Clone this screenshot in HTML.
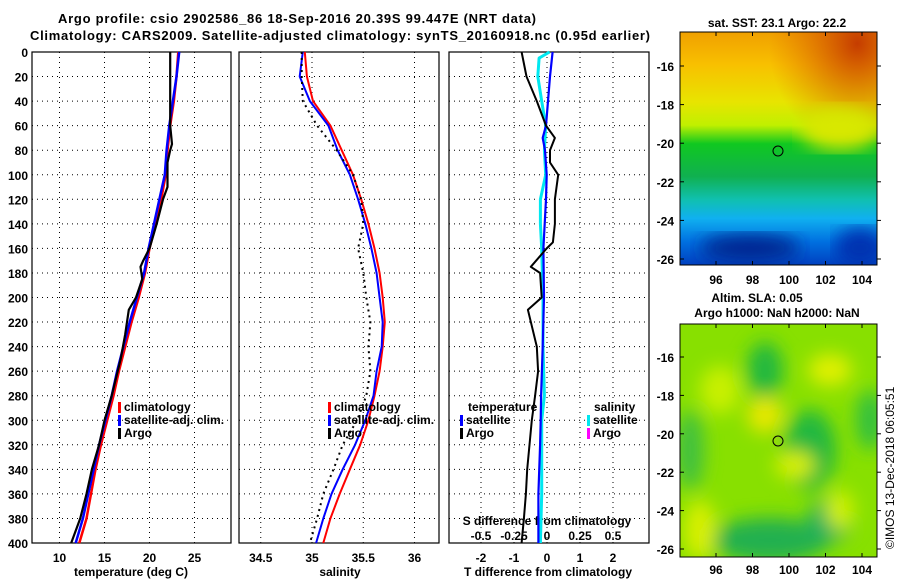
<!DOCTYPE html>
<html><head><meta charset="utf-8"><style>
html,body{margin:0;padding:0;background:#fff;}
svg{display:block;font-family:"Liberation Sans",sans-serif;font-weight:bold;}
</style></head><body>
<svg id="chart" width="900" height="580" viewBox="0 0 900 580" xmlns="http://www.w3.org/2000/svg">
<defs>
<linearGradient id="sstGrad" x1="0" y1="0" x2="0" y2="1">
<stop offset="0" stop-color="#f0a000"/><stop offset="0.14" stop-color="#f8c000"/>
<stop offset="0.3" stop-color="#e8e400"/><stop offset="0.4" stop-color="#c0f000"/>
<stop offset="0.48" stop-color="#10c820"/><stop offset="0.62" stop-color="#10b050"/>
<stop offset="0.72" stop-color="#10c0b0"/><stop offset="0.8" stop-color="#10b0f0"/>
<stop offset="0.9" stop-color="#0070e0"/><stop offset="1" stop-color="#0040c0"/>
</linearGradient>
<radialGradient id="hotCorner" cx="0.9" cy="0.05" r="0.45">
<stop offset="0" stop-color="#c03000" stop-opacity="0.9"/><stop offset="1" stop-color="#e06000" stop-opacity="0"/>
</radialGradient>
<filter id="blur"><feGaussianBlur stdDeviation="9"/></filter>
<clipPath id="clipT"><rect x="680" y="32" width="197" height="233"/></clipPath>
<clipPath id="clipB"><rect x="680" y="324" width="197" height="233"/></clipPath>
</defs>
<text x="58" y="23" font-size="13" textLength="478">Argo profile: csio 2902586_86 18-Sep-2016 20.39S 99.447E (NRT data)</text>
<text x="30" y="40" font-size="13" textLength="620">Climatology: CARS2009. Satellite-adjusted climatology: synTS_20160918.nc (0.95d earlier)</text>

<g clip-path="url(#clipT)">
<rect x="680" y="32" width="197" height="233" fill="url(#sstGrad)"/>
<rect x="680" y="32" width="197" height="233" fill="url(#hotCorner)"/>
<ellipse cx="840" cy="128" rx="40" ry="22" fill="#d8e800" filter="url(#blur)"/>
<ellipse cx="750" cy="248" rx="50" ry="14" fill="#002890" filter="url(#blur)"/>
<ellipse cx="860" cy="248" rx="25" ry="20" fill="#0030b0" filter="url(#blur)"/>
</g>
<rect x="680" y="32" width="197" height="233" fill="none" stroke="#000"/>
<circle cx="778" cy="151" r="5" fill="none" stroke="#000"/>
<text x="777" y="27" font-size="12" text-anchor="middle">sat. SST: 23.1 Argo: 22.2</text>

<g clip-path="url(#clipB)">
<rect x="680" y="324" width="197" height="233" fill="#88e000"/>
<g filter="url(#blur)">
<ellipse cx="765" cy="370" rx="18" ry="28" fill="#20b840"/>
<ellipse cx="810" cy="450" rx="26" ry="40" fill="#20b840"/>
<ellipse cx="770" cy="540" rx="60" ry="22" fill="#20b050"/>
<ellipse cx="870" cy="420" rx="14" ry="30" fill="#30c040"/>
<ellipse cx="690" cy="450" rx="14" ry="40" fill="#40c040"/>
<ellipse cx="830" cy="520" rx="22" ry="22" fill="#20b060"/>
<ellipse cx="700" cy="530" rx="16" ry="30" fill="#d8f000"/>
<ellipse cx="830" cy="370" rx="22" ry="16" fill="#e0f000"/>
<ellipse cx="765" cy="415" rx="18" ry="18" fill="#e8e800"/>
<ellipse cx="795" cy="465" rx="20" ry="14" fill="#d8f000"/>
<ellipse cx="720" cy="390" rx="20" ry="24" fill="#c8f000"/>
<ellipse cx="840" cy="510" rx="14" ry="20" fill="#d0f000"/>
</g>
</g>
<rect x="680" y="324" width="197" height="233" fill="none" stroke="#000"/>
<circle cx="778" cy="441" r="5" fill="none" stroke="#000"/>
<text x="757" y="302" font-size="12" text-anchor="middle">Altim. SLA: 0.05</text>
<text x="777" y="317" font-size="12" text-anchor="middle">Argo h1000: NaN h2000: NaN</text>
<text x="0" y="0" font-size="12" font-weight="normal" transform="translate(894,549) rotate(-90)">©IMOS 13-Dec-2018 06:05:51</text>
</svg>
<script>
// ---------- data ----------
const depthTicks = [0,20,40,60,80,100,120,140,160,180,200,220,240,260,280,300,320,340,360,380,400];
const tempTicks = [10,15,20,25];
const salTicks = [34.5,35,35.5,36];
const tdiffTicks = [-2,-1,0,1,2];
const sdiffTicks = [-0.5,-0.25,0,0.25,0.5];
const sdiffTickLabels = ['-0.5','-0.25','0','0.25','0.5'];
const lonTicks = [96,98,100,102,104];
const latTicks = [-16,-18,-20,-22,-24,-26];

const depthStd = [0,20,40,60,80,100,120,140,160,180,200,220,240,260,280,300,320,340,360,380,400];
const tempClim = [23.2,23.0,22.7,22.3,22.0,21.8,21.3,20.7,20.0,19.5,18.8,18.0,17.3,16.6,16.0,15.3,14.6,14.0,13.5,13.0,12.2];
const tempSat  = [23.3,23.0,22.6,22.2,21.9,21.7,21.1,20.5,19.9,19.4,18.6,17.8,17.1,16.4,15.8,15.1,14.4,13.8,13.2,12.6,11.8];
const depthArgoT = [0,20,40,60,75,80,90,110,120,140,160,170,175,185,200,210,230,250,280,300,320,340,360,380,400];
const tempArgo   = [22.3,22.3,22.3,22.3,22.5,22.3,22.0,22.0,21.5,20.8,20.0,19.3,19.0,19.2,18.5,17.7,17.3,16.8,15.8,15.0,14.4,13.6,13.0,12.3,11.3];

const salClim = [34.93,34.95,35.01,35.18,35.29,35.40,35.48,35.55,35.61,35.66,35.69,35.71,35.69,35.66,35.61,35.55,35.47,35.37,35.27,35.18,35.11];
const salSat  = [34.91,34.88,34.98,35.16,35.25,35.37,35.45,35.52,35.58,35.63,35.66,35.69,35.68,35.63,35.60,35.52,35.42,35.30,35.19,35.11,35.04];
const salArgo = [34.90,34.90,34.91,35.05,35.24,35.40,35.48,35.50,35.45,35.50,35.53,35.57,35.55,35.57,35.53,35.44,35.30,35.21,35.11,35.05,34.98];

const depthTdiffArgo = [0,20,40,60,70,80,90,100,120,140,155,160,175,180,200,210,240,260,280,300,320,340,360,380,400];
const tdiffArgo = [-0.77,-0.62,-0.31,-0.03,0.24,0.09,0.09,0.34,0.24,0.24,0.18,-0.01,-0.49,-0.21,-0.16,-0.58,-0.31,-0.27,-0.36,-0.46,-0.53,-0.60,-0.64,-0.70,-0.77];
const depthTdiffSat = [0,20,40,60,70,80,100,120,160,200,240,280,300,320,360,400];
const tdiffSat = [0.17,0.09,0.03,-0.03,-0.13,-0.06,-0.01,-0.03,-0.11,-0.09,-0.13,-0.18,-0.19,-0.21,-0.26,-0.26];
const depthSdiffSat = [0,5,20,40,60,80,100,120,140,160,200,240,280,300,320,360,400];
const sdiffSat = [0.02,-0.06,-0.07,-0.04,-0.01,-0.02,-0.01,-0.05,-0.05,-0.04,-0.03,-0.03,-0.02,-0.04,-0.04,-0.04,-0.05];

// ---------- axes ----------
const Y0 = 52, Y1 = 543;
function yD(d){ return Y0 + (d/400)*(Y1-Y0); }
const P1 = {x0:32, x1:231}, P2 = {x0:239, x1:439}, P3 = {x0:449, x1:649};
function xT(t){ return 59.5 + (t-10)*9; }
function xS(s){ return 312 + (s-35)*102.5; }
function xTd(d){ return 547 + d*33; }
function xSd(s){ return 547 + s*132; }
function xLon(l){ return 716 + (l-96)*18.25; }
function yLatTop(l){ return 66 + (-l-16)*19.3; }
function yLatBot(l){ return 357 + (-l-16)*19.2; }

const NS = 'http://www.w3.org/2000/svg';
const svg = document.getElementById('chart');
function mk(tag, attrs, parent){
  const e = document.createElementNS(NS, tag);
  for (const k in attrs) e.setAttribute(k, attrs[k]);
  (parent||svg).appendChild(e);
  return e;
}
function txt(x,y,s,anchor,size){
  const t = mk('text',{x:x,y:y,'text-anchor':anchor||'start','font-size':size||12});
  t.textContent = s;
  return t;
}
function poly(xs, ds, fx, color, w, dash){
  const pts = xs.map((v,i)=> fx(v).toFixed(1)+','+yD(ds[i]).toFixed(1)).join(' ');
  const a = {points:pts, fill:'none', stroke:color, 'stroke-width':w, 'stroke-linejoin':'round'};
  if (dash) a['stroke-dasharray'] = dash;
  return mk('polyline', a);
}

function panel(P, xticks, fx, name){
  const g = mk('g',{});
  
  
  depthTicks.forEach(d=>{
    if (d===0||d===400) return;
    mk('line',{x1:P.x0,x2:P.x1,y1:yD(d),y2:yD(d),stroke:'#000','stroke-width':1,'stroke-dasharray':'1,4'},g);
  });
  xticks.forEach(v=>{
    mk('line',{x1:fx(v),x2:fx(v),y1:Y0,y2:Y1,stroke:'#000','stroke-width':1,'stroke-dasharray':'1,4'},g);
  });
  const r = mk('rect',{x:P.x0,y:Y0,width:P.x1-P.x0,height:Y1-Y0,fill:'none',stroke:'#000','stroke-width':1.2});
  
  
}

panel(P1, tempTicks, xT, 'temperature-panel');
panel(P2, salTicks, xS, 'salinity-panel');
panel(P3, tdiffTicks, xTd, 'difference-panel');

depthTicks.forEach(d=>{
  const t = txt(28, yD(d)+5, String(d), 'end', 12);
  
  
});
tempTicks.forEach(v=>{
  const t = txt(xT(v), 562, String(v), 'middle', 12);
  
  
});
salTicks.forEach(v=>{
  const t = txt(xS(v), 562, String(v), 'middle', 12);
  
  
});
tdiffTicks.forEach(v=>{
  const t = txt(xTd(v), 562, String(v), 'middle', 12);
  
  
});
sdiffTicks.forEach((v,i)=>{
  const t = txt(xSd(v), 540, sdiffTickLabels[i], 'middle', 12);
  
  
});
let at;
at = txt(131, 576, 'temperature (deg C)', 'middle', 12);


at = txt(340, 576, 'salinity', 'middle', 12);


at = txt(548, 576, 'T difference from climatology', 'middle', 12);


at = txt(547, 525, 'S difference from climatology', 'middle', 12);



let s;
s = poly(tempClim, depthStd, xT, '#ff0000', 2.5);


s = poly(tempSat, depthStd, xT, '#0000ff', 2.5);


s = poly(tempArgo, depthArgoT, xT, '#000000', 2.2);



s = poly(salClim, depthStd, xS, '#ff0000', 2);


s = poly(salSat, depthStd, xS, '#0000ff', 2);


s = poly(salArgo, depthStd, xS, '#000000', 2, '2,4');



s = poly(sdiffSat, depthSdiffSat, xSd, '#00e8f0', 3);


s = poly(tdiffSat, depthTdiffSat, xTd, '#0000ff', 2.2);


s = poly(tdiffArgo, depthTdiffArgo, xTd, '#000000', 2);



function legEntry(x, y, color, label, name){
  const b = mk('rect',{x:x, y:y-9, width:3, height:11, fill:color});
  
  
  const t = txt(x+6, y, label, 'start', 12);
  
  
}
legEntry(118, 411, '#ff0000', 'climatology', 'legend-temp-climatology');
legEntry(118, 424, '#0000ff', 'satellite-adj. clim.', 'legend-temp-satellite');
legEntry(118, 437, '#000000', 'Argo', 'legend-temp-argo');
legEntry(328, 411, '#ff0000', 'climatology', 'legend-sal-climatology');
legEntry(328, 424, '#0000ff', 'satellite-adj. clim.', 'legend-sal-satellite');
legEntry(328, 437, '#000000', 'Argo', 'legend-sal-argo');
at = txt(468, 411, 'temperature', 'start', 12);


at = txt(594, 411, 'salinity', 'start', 12);


legEntry(460, 424, '#0000ff', 'satellite', 'legend-tdiff-satellite');
legEntry(460, 437, '#000000', 'Argo', 'legend-tdiff-argo');
legEntry(587, 424, '#00e8f0', 'satellite', 'legend-sdiff-satellite');
legEntry(587, 437, '#ff00ff', 'Argo', 'legend-sdiff-argo');

function mapAxes(yLat, yTop, yBot, labelY, name){
  lonTicks.forEach(l=>{
    mk('line',{x1:xLon(l),x2:xLon(l),y1:yTop,y2:yTop+4,stroke:'#000'});
    mk('line',{x1:xLon(l),x2:xLon(l),y1:yBot,y2:yBot-4,stroke:'#000'});
    const t = txt(xLon(l), labelY, String(l), 'middle', 12);
    
    
  });
  latTicks.forEach(l=>{
    mk('line',{x1:680,x2:684,y1:yLat(l),y2:yLat(l),stroke:'#000'});
    mk('line',{x1:877,x2:881,y1:yLat(l),y2:yLat(l),stroke:'#000'});
    const t = txt(674, yLat(l)+5, String(l), 'end', 12);
    
    
  });
}
mapAxes(yLatTop, 32, 265, 284, 'sst-map');
mapAxes(yLatBot, 324, 557, 574, 'sla-map');
</script>
</body></html>
